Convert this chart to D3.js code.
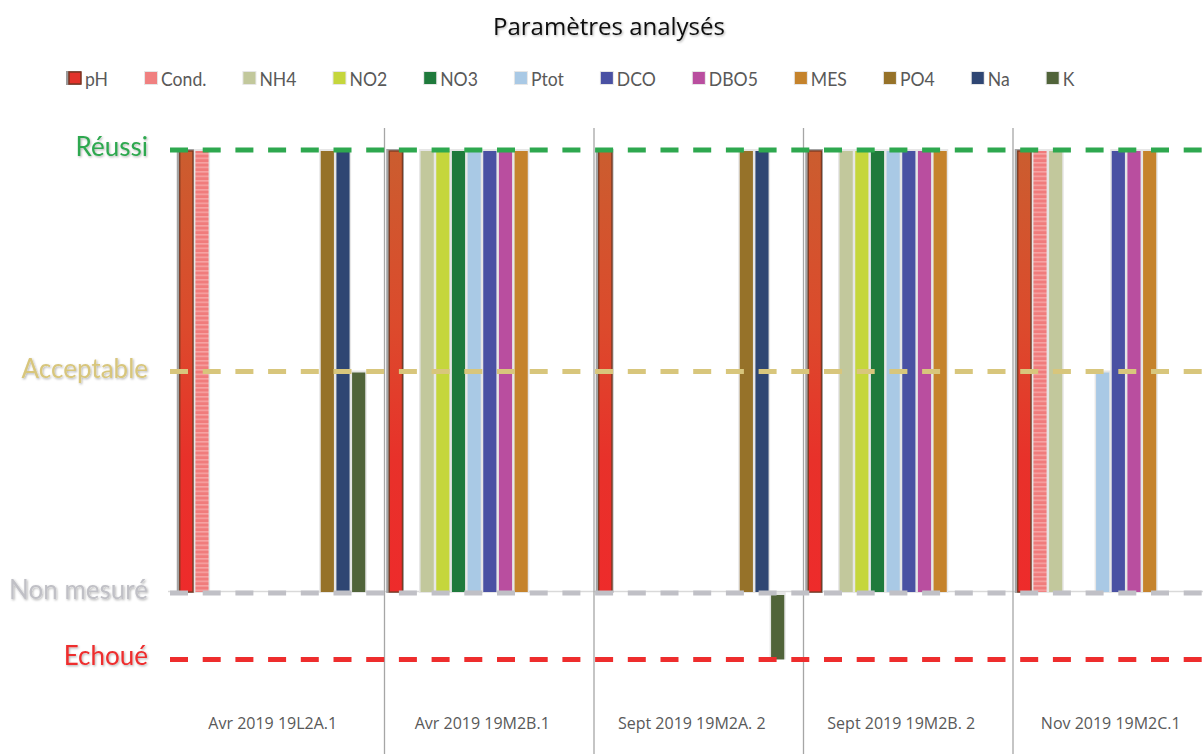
<!DOCTYPE html>
<html><head><meta charset="utf-8">
<script src="https://cdn.jsdelivr.net/npm/d3@7"></script>
<style>body{margin:0;background:#fff} svg{display:block}</style>
</head><body><svg id="c" width="1203" height="754"></svg>
<script>
const categories = ["Avr 2019 19L2A.1","Avr 2019 19M2B.1","Sept 2019 19M2A. 2","Sept 2019 19M2B. 2","Nov 2019 19M2C.1"];
const seriesNames = ["pH","Cond.","NH4","NO2","NO3","Ptot","DCO","DBO5","MES","PO4","Na","K"];
const seriesColors = ["#e2352a","#f08080","#c2c89c","#c5d63c","#1f7a3c","#a9c9e5","#4a51a3","#b94e9f","#c5832c","#967229","#2f4673","#51643a"];
const pH   = [2,2,2,2,2];
const cond = [2,0,0,0,2];
const nh4  = [0,2,0,2,2];
const no2  = [0,2,0,2,0];
const no3  = [0,2,0,2,0];
const ptot = [0,2,0,2,1];
const dco  = [0,2,0,2,2];
const dbo5 = [0,2,0,2,2];
const mes  = [0,2,0,2,2];
const po4  = [2,0,2,0,0];
const na   = [2,0,2,0,0];
const k    = [1,0,-0.3,0,0];
const levelLabels = ["Réussi","Acceptable","Non mesuré","Echoué"];
const levelValues = [2,1,0,-0.3];
const levelColors = ["#2ea84f","#d8c67c","#c0c0c6","#ee2d2d"];
const title = "Paramètres analysés";

const seriesValues = [pH,cond,nh4,no2,no3,ptot,dco,dbo5,mes,po4,na,k];

const svg = d3.select("#c");
const defs = svg.append("defs");
const gphG = defs.append("linearGradient").attr("id","gph").attr("x1",0).attr("y1",0).attr("x2",0).attr("y2",1);
gphG.append("stop").attr("offset","0%").attr("stop-color","#cb5d2f");
gphG.append("stop").attr("offset","40%").attr("stop-color","#dc4a2c");
gphG.append("stop").attr("offset","70%").attr("stop-color","#e8312a");
gphG.append("stop").attr("offset","100%").attr("stop-color","#ee2b2b");
const pat = defs.append("pattern").attr("id","stripes").attr("patternUnits","userSpaceOnUse").attr("width",20).attr("height",4.5);
pat.append("rect").attr("width",20).attr("height",4.5).attr("fill","#f07c7c");
pat.append("rect").attr("width",20).attr("height",1.6).attr("fill","#f6a2a2");
const sh = defs.append("filter").attr("id","tsh").attr("x","-10%").attr("y","-20%").attr("width","130%").attr("height","160%");
sh.append("feDropShadow").attr("dx",1).attr("dy",1.2).attr("stdDeviation",0.9).attr("flood-color","#000").attr("flood-opacity",0.3);

const fillFor = i => i === 0 ? "url(#gph)" : (i === 1 ? "url(#stripes)" : seriesColors[i]);

const x = d3.scaleBand().domain(categories).range([168, 1215.5]);
const xs = d3.scaleBand().domain(seriesNames).range([10.75, x.bandwidth() - 10.75]);
const y = d3.scaleLinear().domain([0, 2]).range([593, 150]);

// title
svg.append("text").attr("x", 609).attr("y", 35).attr("text-anchor","middle")
  .attr("font-family","Open Sans").attr("font-size",24).attr("fill","#111")
  .attr("filter","url(#tsh)").text(title);

// legend
const leg = svg.append("g");
let cx = 67;
const squeeze = 0.88;
seriesNames.forEach((s, i) => {
  const g = leg.append("g");
  if (i === 0) {
    g.append("rect").attr("x", cx - 1).attr("y", 71).attr("width", 15).attr("height", 14).attr("fill", "#9a9a9a");
    g.append("rect").attr("x", cx + 2).attr("y", 72).attr("width", 12).attr("height", 12)
      .attr("fill", "#e3322a").attr("stroke", "#7b3522").attr("stroke-width", 1.5);
  } else {
    g.append("rect").attr("x", cx + 1).attr("y", 71).attr("width", 14).attr("height", 14).attr("fill", "#e6e6e6");
    g.append("rect").attr("x", cx + 2).attr("y", 72).attr("width", 12).attr("height", 12).attr("fill", seriesColors[i]);
  }
  const t = g.append("text").attr("transform", `translate(${cx + 18},86) scale(${squeeze},1)`)
    .attr("font-family","Lato").attr("font-size", 20).attr("fill","#595959").text(s);
  cx += 18 + t.node().getComputedTextLength() * squeeze + 35;
});

// axis baseline
svg.append("line").attr("x1",168).attr("x2",1203).attr("y1",y(0)-1.5).attr("y2",y(0)-1.5)
  .attr("stroke","#d9d9d9").attr("stroke-width",1.5);

// separators
categories.slice(1).forEach(c => {
  svg.append("line").attr("x1", x(c) + 7).attr("x2", x(c) + 7).attr("y1", 128).attr("y2", 754)
    .attr("stroke","#a6a6a6").attr("stroke-width",1.3);
});

// bars
const barsG = svg.append("g");
const barData = [];
categories.forEach((c, ci) => {
  seriesNames.forEach((s, si) => {
    const v = seriesValues[si][ci];
    if (v !== 0) barData.push({c, s, si, v});
  });
});
const bx = d => x(d.c) + xs(d.s) + 1;
const bw = xs.bandwidth() - 2.5;
barsG.selectAll("rect.halo").data(barData).join("rect").attr("class","halo")
  .attr("x", d => bx(d) - (d.si === 0 ? 3 : 1.5))
  .attr("width", d => bw + (d.si === 0 ? 4.5 : 3))
  .attr("y", d => Math.min(y(d.v), y(0)) - 1)
  .attr("height", d => Math.abs(y(d.v) - y(0)) + 1)
  .attr("fill", d => d.si === 0 ? "#a3a3a3" : "#e6e6e6");
barsG.selectAll("rect.bar").data(barData).join("rect").attr("class","bar")
  .attr("x", bx).attr("width", bw)
  .attr("y", d => d.v > 0 ? y(d.v) + 1 : y(0) + 2)
  .attr("height", d => d.v > 0 ? y(0) - y(d.v) - 2 : y(d.v) - y(0) - 2)
  .attr("fill", d => fillFor(d.si))
  .attr("stroke", d => d.si === 0 ? "#7b3a22" : "none")
  .attr("stroke-width", 1.3);

// level dashed lines
levelValues.forEach((v, i) => {
  svg.append("line").attr("x1", 170).attr("x2", 1215).attr("y1", y(v)).attr("y2", y(v))
    .attr("stroke", levelColors[i]).attr("stroke-width", 5).attr("stroke-dasharray", "18,14.7");
  svg.append("text").attr("x", 148).attr("y", y(v) + 6).attr("text-anchor","end")
    .attr("font-family","Lato").attr("font-size", 26).attr("fill", levelColors[i])
    .attr("filter","url(#tsh)").text(levelLabels[i]);
});

// x axis labels
const ax = svg.append("g").attr("transform","translate(0,715)")
  .call(d3.axisBottom(x).tickSize(0).tickPadding(0));
ax.select(".domain").remove();
ax.selectAll("text").attr("font-family","Open Sans").attr("font-size",16).attr("fill","#595959").attr("dy","0.9em");
</script></body></html>
